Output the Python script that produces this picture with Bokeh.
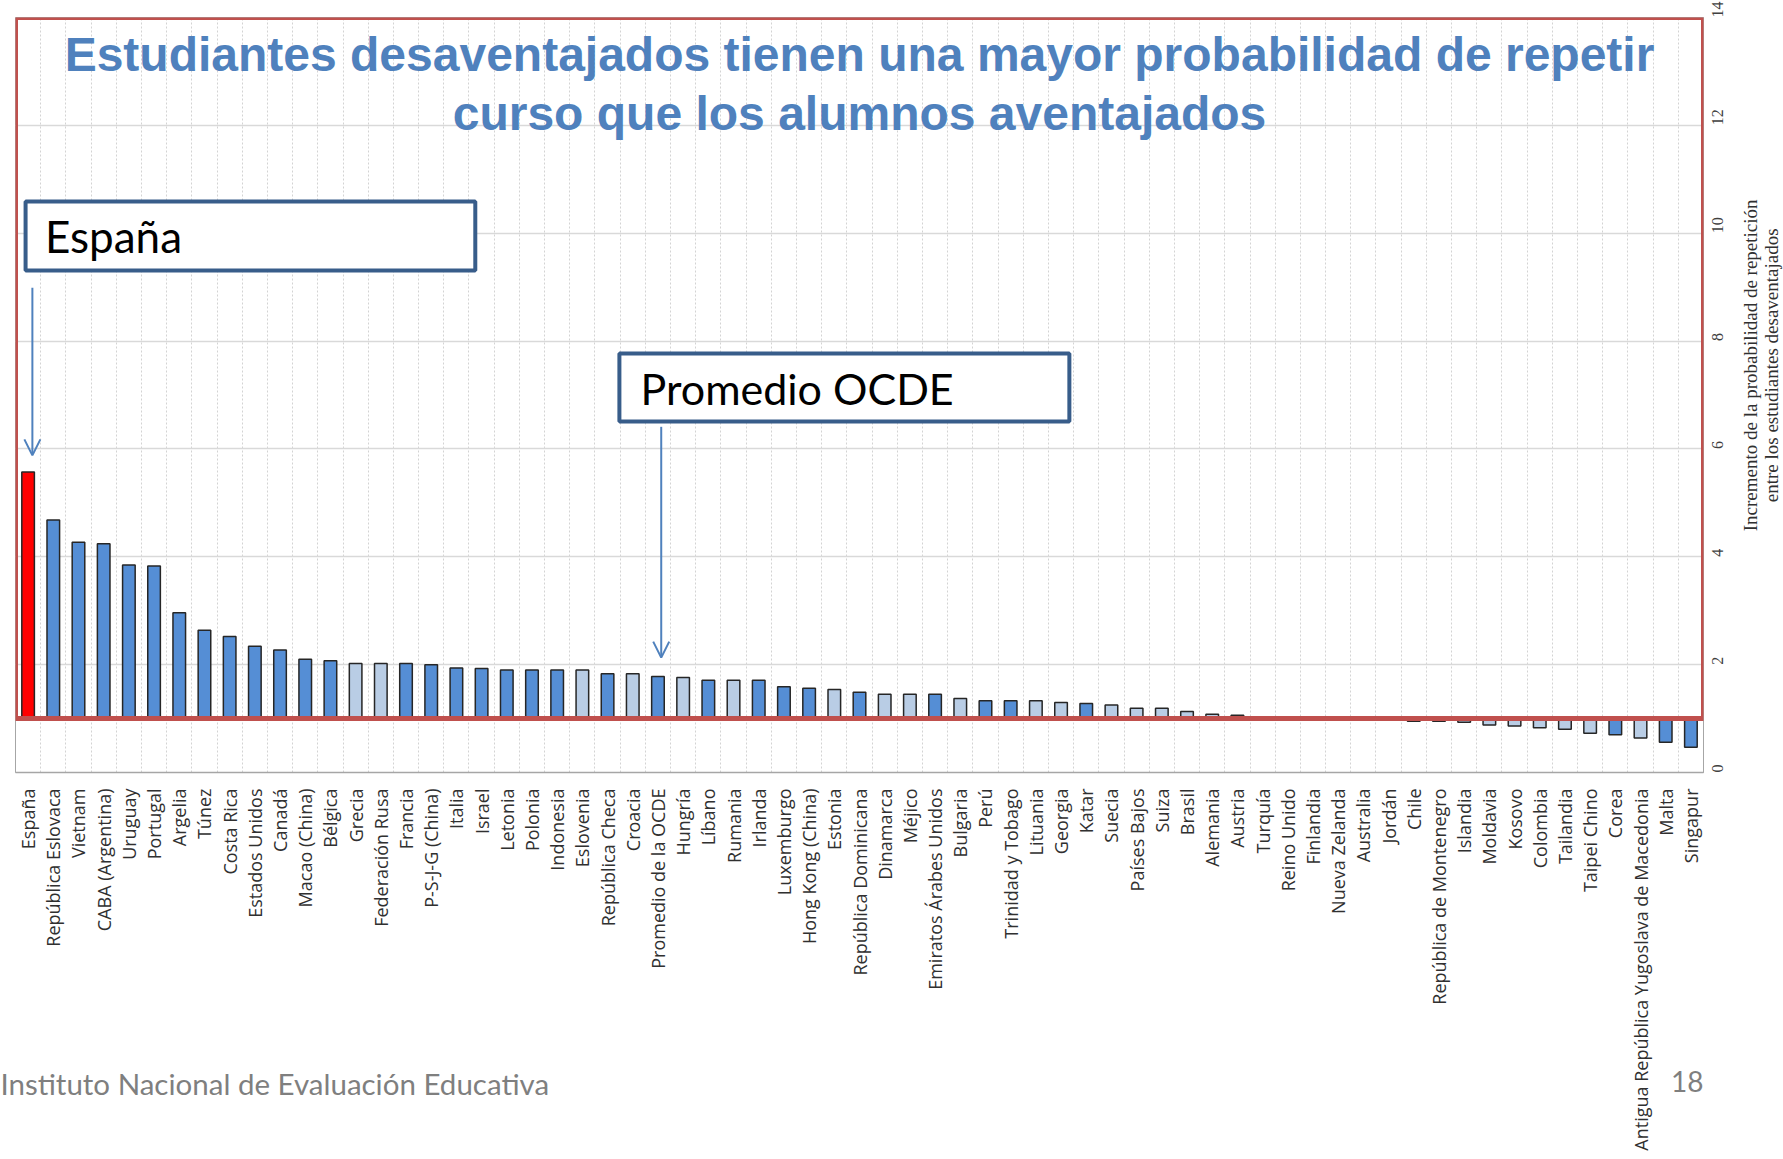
import math
from bokeh.plotting import figure
from bokeh.models import (ColumnDataSource, Range1d, FixedTicker, Label, Arrow,
                          OpenHead, BoxAnnotation)
from bokeh.embed import file_html
from bokeh.resources import INLINE

# ---------------- data ----------------
paises = [
    "España", "República Eslovaca", "Vietnam", "CABA (Argentina)", "Uruguay",
    "Portugal", "Argelia", "Túnez", "Costa Rica", "Estados Unidos",
    "Canadá", "Macao (China)", "Bélgica", "Grecia", "Federación Rusa",
    "Francia", "P-S-J-G (China)", "Italia", "Israel", "Letonia",
    "Polonia", "Indonesia", "Eslovenia", "República Checa", "Croacia",
    "Promedio de la OCDE", "Hungría", "Líbano", "Rumania", "Irlanda",
    "Luxemburgo", "Hong Kong (China)", "Estonia", "República Dominicana", "Dinamarca",
    "Méjico", "Emiratos Árabes Unidos", "Bulgaria", "Perú", "Trinidad y Tobago",
    "Lituania", "Georgia", "Katar", "Suecia", "Países Bajos",
    "Suiza", "Brasil", "Alemania", "Austria", "Turquía",
    "Reino Unido", "Finlandia", "Nueva Zelanda", "Australia", "Jordán",
    "Chile", "República de Montenegro", "Islandia", "Moldavia", "Kosovo",
    "Colombia", "Tailandia", "Taipei Chino", "Corea",
    "Antigua República Yugoslava de Macedonia", "Malta", "Singapur",
]

incremento = [
    5.57, 4.68, 4.27, 4.24, 3.85, 3.83, 2.96, 2.64, 2.52, 2.34,
    2.27, 2.10, 2.07, 2.02, 2.02, 2.02, 2.00, 1.94, 1.93, 1.90,
    1.90, 1.90, 1.90, 1.83, 1.83, 1.78, 1.76, 1.71, 1.71, 1.71,
    1.59, 1.56, 1.54, 1.49, 1.45, 1.45, 1.45, 1.37, 1.33, 1.33,
    1.33, 1.30, 1.28, 1.25, 1.19, 1.19, 1.13, 1.08, 1.06, 1.03,
    1.03, 1.00, 1.00, 1.00, 1.00, 0.95, 0.95, 0.93, 0.88, 0.86,
    0.83, 0.80, 0.73, 0.70, 0.64, 0.56, 0.47,
]

# "esp" = España, "sig" = significativo, "ns" = no significativo
grupo = [
    "esp", "sig", "sig", "sig", "sig", "sig", "sig", "sig", "sig", "sig",
    "sig", "sig", "sig", "ns", "ns", "sig", "sig", "sig", "sig", "sig",
    "sig", "sig", "ns", "sig", "ns", "sig", "ns", "sig", "ns", "sig",
    "sig", "sig", "ns", "sig", "ns", "ns", "sig", "ns", "sig", "sig",
    "ns", "ns", "sig", "ns", "ns", "ns", "ns", "ns", "sig", "sig",
    "sig", "ns", "ns", "ns", "ns", "sig", "sig", "ns", "ns", "ns",
    "ns", "ns", "ns", "sig", "ns", "sig", "sig",
]

linea_base = 1.0
y_ticks = [0, 2, 4, 6, 8, 10, 12, 14]
titulo_1 = "Estudiantes desaventajados tienen una mayor probabilidad de repetir"
titulo_2 = "curso que los alumnos aventajados"
eje_y = "Incremento de la probabilidad de repetición\nentre los estudiantes desaventajados"
caja_1 = "España"
caja_2 = "Promedio OCDE"
pie = "Instituto Nacional de Evaluación Educativa"
pagina = "18"

# ---------------- styles ----------------
colores = {"esp": "#FF0000", "sig": "#558ED5", "ns": "#B9CDE5"}
AZUL_TIT = "#4F81BD"
ROJO = "#C0504D"
AZUL_CAJA = "#385D8A"
GRIS = "#A6A6A6"
GRIS_PIE = "#7F7F7F"

n = len(paises)
pos = [i + 0.5 for i in range(n)]
src = ColumnDataSource(dict(
    x=pos, top=incremento, bottom=[linea_base] * n,
    color=[colores[g] for g in grupo], pais=paises,
))

W, H = 1783, 1159
p = figure(width=W, height=H, x_range=Range1d(0, n), y_range=Range1d(0, y_ticks[-1]),
           y_axis_location="right", output_backend="svg", toolbar_location=None,
           min_border_left=15, min_border_top=17, min_border_right=80,
           min_border_bottom=387)
p.background_fill_color = "white"
p.border_fill_color = "white"
p.outline_line_color = GRIS

# grids
p.ygrid.ticker = FixedTicker(ticks=y_ticks)
p.ygrid.grid_line_color = "#D9D9D9"
p.ygrid.grid_line_width = 1.5
p.xgrid.ticker = FixedTicker(ticks=list(range(n + 1)))
p.xgrid.grid_line_color = "#D3D3D3"
p.xgrid.grid_line_dash = "2 2"

# bars
p.vbar(x="x", top="top", bottom="bottom", width=0.5, source=src,
       fill_color="color", line_color="#262626", line_width=1.5)

# x axis (page number carried as its axis label)
xa = p.xaxis[0]
xa.ticker = FixedTicker(ticks=pos)
xa.major_label_overrides = {x: name for x, name in zip(pos, paises)}
xa.major_label_orientation = math.pi / 2
xa.major_label_text_font = "Open Sans"
xa.major_label_text_font_size = "18px"
xa.major_label_text_color = "#303030"
xa.major_label_standoff = 10
xa.major_tick_line_color = None
xa.minor_tick_line_color = None
xa.axis_line_color = GRIS
xa.axis_line_width = 1.5
xa.axis_label = pagina
xa.axis_label_align = "end"
xa.axis_label_orientation = 0.0001
xa.axis_label_standoff = -72
xa.axis_label_text_font = "Lato"
xa.axis_label_text_font_style = "normal"
xa.axis_label_text_font_size = "28px"
xa.axis_label_text_color = GRIS_PIE

# footer (in the lower side panel, so it is not clipped to the frame)
p.add_layout(Label(x=-0.6, y=-5.76, text=pie, text_baseline="middle",
                   text_font="Lato", text_font_size="29.5px",
                   text_color=GRIS_PIE), "below")

# y axis (right)
ya = p.yaxis[0]
ya.ticker = FixedTicker(ticks=y_ticks)
ya.major_label_orientation = math.pi / 2
ya.major_label_text_font = "Liberation Serif"
ya.major_label_text_font_size = "16px"
ya.major_label_text_color = "#404040"
ya.major_label_standoff = 8
ya.major_tick_line_color = None
ya.minor_tick_line_color = None
ya.axis_line_color = GRIS

# y axis title (placed in the right side panel)
p.add_layout(Label(x=69.3, y=7.55, text=eje_y, angle=math.pi / 2,
                   text_align="center", text_baseline="middle",
                   text_font="Liberation Serif", text_font_size="19px",
                   text_line_height=1.0, text_color="#303030"), "right")

# red frame
p.add_layout(BoxAnnotation(left=0, right=n, bottom=linea_base, top=y_ticks[-1],
                           fill_alpha=0, fill_color=None,
                           line_color=ROJO, line_alpha=1, line_width=5))

# title
p.add_layout(Label(x=n / 2, y=12.82, text=titulo_1, text_align="center",
                   text_font="Liberation Sans", text_font_style="bold",
                   text_font_size="48px", text_color=AZUL_TIT))
p.add_layout(Label(x=n / 2, y=11.72, text=titulo_2, text_align="center",
                   text_font="Liberation Sans", text_font_style="bold",
                   text_font_size="48px", text_color=AZUL_TIT))

# annotation boxes
p.add_layout(BoxAnnotation(left=0.4, right=18.25, bottom=9.31, top=10.59,
                           fill_color="white", fill_alpha=1,
                           line_color=AZUL_CAJA, line_alpha=1, line_width=4))
p.add_layout(Label(x=1.17, y=9.46, text=caja_1, text_font="Lato",
                   text_font_size="44px", text_color="black"))
p.add_layout(BoxAnnotation(left=23.97, right=41.83, bottom=6.51, top=7.77,
                           fill_color="white", fill_alpha=1,
                           line_color=AZUL_CAJA, line_alpha=1, line_width=4))
p.add_layout(Label(x=24.81, y=6.64, text=caja_2, text_font="Lato",
                   text_font_size="43px", text_color="black"))

# arrows
p.add_layout(Arrow(end=OpenHead(size=16, line_color=AZUL_TIT, line_width=2),
                   x_start=0.67, y_start=8.99, x_end=0.67, y_end=5.88,
                   line_color=AZUL_TIT, line_width=2))
p.add_layout(Arrow(end=OpenHead(size=16, line_color=AZUL_TIT, line_width=2),
                   x_start=25.63, y_start=6.41, x_end=25.63, y_end=2.13,
                   line_color=AZUL_TIT, line_width=2))

open("out.html", "w").write(file_html(p, INLINE))
